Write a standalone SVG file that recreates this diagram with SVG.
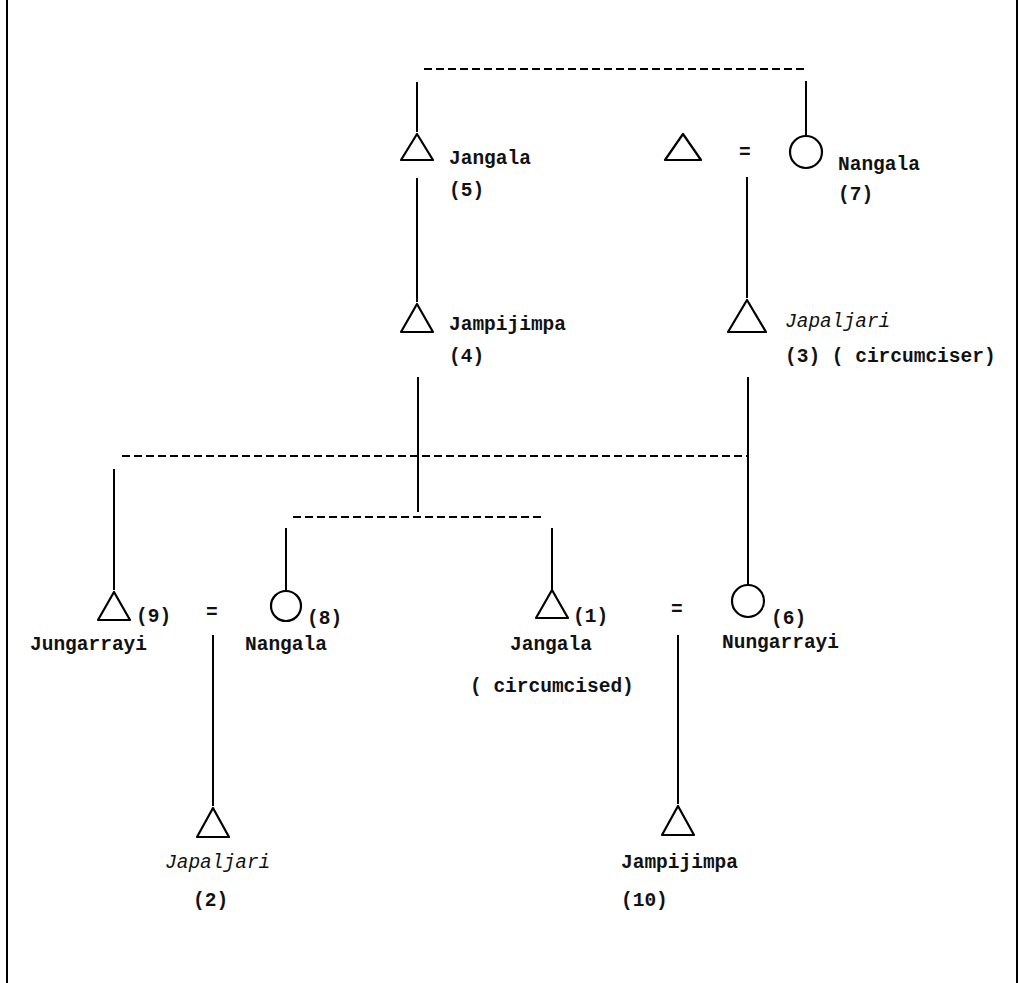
<svg xmlns="http://www.w3.org/2000/svg" width="1020" height="983" viewBox="0 0 1020 983">
<style>
.l{stroke:#000;stroke-width:2;fill:none}
.d{stroke:#000;stroke-width:2;fill:none;stroke-dasharray:8 4}
.s{stroke:#000;stroke-width:2.2;fill:none;stroke-linejoin:round}
text{font-family:"Liberation Mono","DejaVu Sans Mono",monospace;font-size:19.5px;font-weight:bold;fill:#111}
.i{font-style:italic;font-weight:normal}
</style>
<rect width="1020" height="983" fill="#fff"/>
<g id="frame"><line class="l" x1="7" y1="0" x2="7" y2="983"/><line class="l" x1="1017" y1="0" x2="1017" y2="983"/></g>
<g id="connectors">
<line class="d" x1="424" y1="69" x2="808" y2="69"/>
<line class="l" x1="417" y1="82" x2="417" y2="132"/>
<line class="l" x1="806" y1="81" x2="806" y2="136"/>
<line class="l" x1="417" y1="178" x2="417" y2="302"/>
<line class="l" x1="747" y1="177" x2="747" y2="298"/>
<line class="l" x1="418" y1="377" x2="418" y2="512"/>
<line class="l" x1="748" y1="377" x2="748" y2="585"/>
<line class="d" x1="122" y1="456" x2="748" y2="456"/>
<line class="l" x1="114" y1="469" x2="114" y2="590"/>
<line class="d" x1="293" y1="517" x2="544" y2="517"/>
<line class="l" x1="286" y1="528" x2="286" y2="591"/>
<line class="l" x1="552" y1="528" x2="552" y2="590"/>
<line class="l" x1="213" y1="635" x2="213" y2="806"/>
<line class="l" x1="678" y1="635" x2="678" y2="804"/>
</g>
<g id="n5"><polygon class="s" points="417,134 433,160 401,160"/><text x="449" y="164">Jangala</text><text x="449" y="196">(5)</text></g>
<g id="nh"><polygon class="s" points="683,134 701,160 665,160"/><text x="739" y="158">=</text></g>
<g id="n7"><circle class="s" cx="806" cy="152" r="16"/><text x="838" y="170">Nangala</text><text x="838" y="200">(7)</text></g>
<g id="n4"><polygon class="s" points="417,304 433,332 401,332"/><text x="449" y="330">Jampijimpa</text><text x="449" y="362">(4)</text></g>
<g id="n3"><polygon class="s" points="747,300 766,332 728,332"/><text class="i" x="785" y="327">Japaljari</text><text x="785" y="362">(3) ( circumciser)</text></g>
<g id="n9"><polygon class="s" points="114,592 130,620 98,620"/><text x="136" y="622">(9)</text><text x="30" y="650">Jungarrayi</text><text x="206" y="618">=</text></g>
<g id="n8"><circle class="s" cx="286" cy="606" r="15"/><text x="307" y="624">(8)</text><text x="245" y="650">Nangala</text></g>
<g id="n1"><polygon class="s" points="552,590 568,618 536,618"/><text x="573" y="622">(1)</text><text x="510" y="650">Jangala</text><text x="470" y="692">( circumcised)</text><text x="671" y="615">=</text></g>
<g id="n6"><circle class="s" cx="748" cy="601" r="16"/><text x="771" y="624">(6)</text><text x="722" y="648">Nungarrayi</text></g>
<g id="n2"><polygon class="s" points="213,808 229,837 197,837"/><text class="i" x="165" y="868">Japaljari</text><text x="193" y="906">(2)</text></g>
<g id="n10"><polygon class="s" points="678,806 694,835 662,835"/><text x="621" y="868">Jampijimpa</text><text x="621" y="906">(10)</text></g>
</svg>
